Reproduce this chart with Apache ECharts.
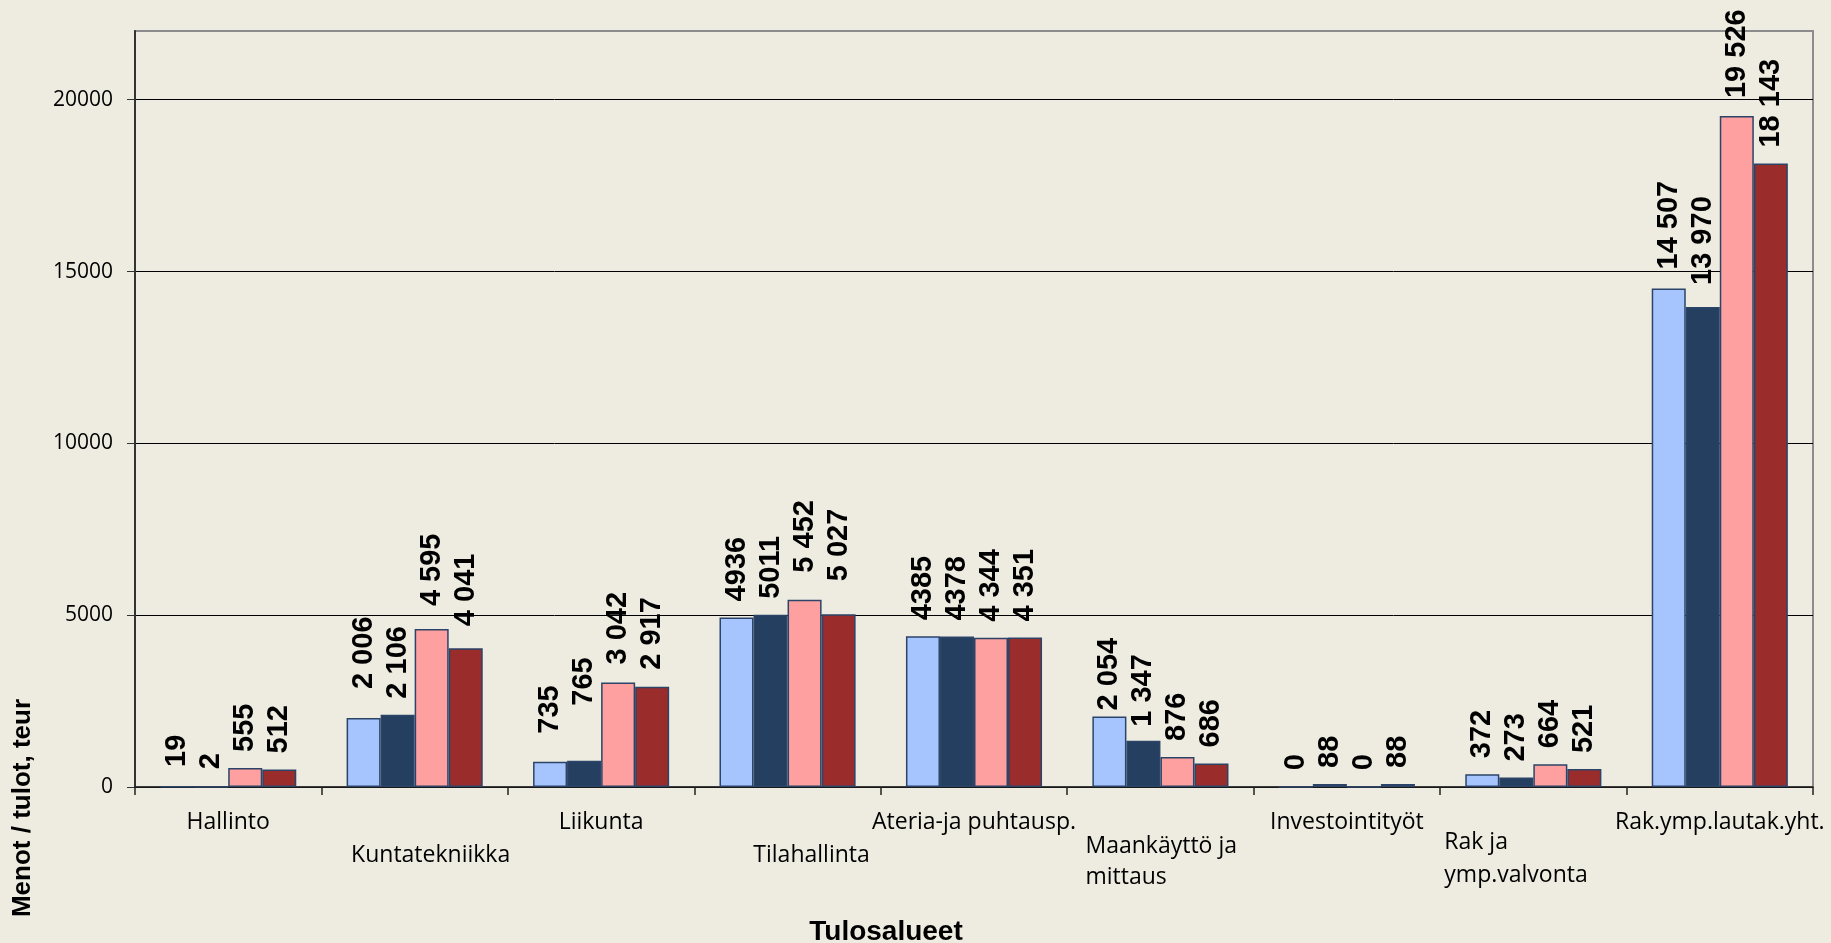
<!DOCTYPE html>
<html>
<head>
<meta charset="utf-8">
<script src="https://cdn.jsdelivr.net/npm/echarts@6/dist/echarts.min.js"></script>
<style>
html,body{margin:0;padding:0;background:#EEECE1;}
#chart{width:1831px;height:943px;}
</style>
</head>
<body>
<div id="chart"></div>
<script>
// ---- data ----
var categories = ['Hallinto', 'Kuntatekniikka', 'Liikunta', 'Tilahallinta', 'Ateria-ja puhtausp.',
  'Maankäyttö ja\nmittaus', 'Investointityöt', 'Rak ja\nymp.valvonta', 'Rak.ymp.lautak.yht.'];
var series1 = [19, 2006, 735, 4936, 4385, 2054, 0, 372, 14507];
var series2 = [2, 2106, 765, 5011, 4378, 1347, 88, 273, 13970];
var series3 = [555, 4595, 3042, 5452, 4344, 876, 0, 664, 19526];
var series4 = [512, 4041, 2917, 5027, 4351, 686, 88, 521, 18143];
var yTicks = [0, 5000, 10000, 15000, 20000];
var yAxisTitle = 'Menot / tulot, teur';
var xAxisTitle = 'Tulosalueet';
// labels printed without thousands separator in the original (series 0 and 1)
var plainLabelCats = [3, 4];

// ---- layout helpers (label nudges, in px, as placed in the original) ----
var labelNudge = [
  [3, 13, 12, 0, 0, -10, 0, 0, 3],
  [1, 0, 39, 0, 0, -2, 0, 0, 6],
  [0, 7, 2, 11, 0, 0, 0, 0, 2],
  [0, 6, 1, 17, 0, 0, 0, 0, 0]
];

var chart = echarts.init(document.getElementById('chart'), null, {renderer: 'canvas'});
var colors = ['#A6C5FF', '#253F60', '#FFA0A0', '#9A2C2C'];
var allSeries = [series1, series2, series3, series4];

function fmt(v, si, di) {
  if (si < 2 && plainLabelCats.indexOf(di) >= 0) return String(v);
  var s = String(v);
  if (v >= 1000) s = s.slice(0, s.length - 3) + ' ' + s.slice(s.length - 3);
  return s;
}

var catStyle = ['r1', 'r2', 'r1', 'r2b', 'r1', 'm', 'r1', 'k', 'r1'];
var catFont = {fontFamily: 'Open Sans', fontSize: 23, color: '#000'};
function rs(extra) { return Object.assign({}, catFont, extra); }

var option = {
  backgroundColor: '#EEECE1',
  animation: false,
  grid: {left: 135, right: 18, top: 31, bottom: 156, outerBoundsMode: 'none', containLabel: false,
    show: true, borderColor: '#8C8C8C', borderWidth: 2, backgroundColor: 'transparent'},
  xAxis: {
    type: 'category',
    data: categories,
    name: xAxisTitle,
    nameLocation: 'middle',
    nameGap: 131,
    nameTextStyle: {fontFamily: 'Liberation Sans', fontWeight: 'bold', fontSize: 28, color: '#000', padding: [0, 176, 0, 0]},
    axisLine: {lineStyle: {color: '#222', width: 1.5}},
    axisTick: {show: true, length: 8, lineStyle: {color: '#222', width: 1.5}, alignWithLabel: false},
    axisLabel: {
      interval: 0, margin: 8, color: '#000', fontFamily: 'Open Sans', fontSize: 23,
      formatter: function (value, idx) {
        var st = catStyle[idx];
        if (st === 'm' || st === 'k') {
          var parts = value.split('\n');
          return '{' + st + '1|' + parts[0] + '}\n{' + st + '2|' + parts[1] + '}';
        }
        return '{' + st + '|' + value + '}';
      },
      rich: {
        r1: rs({padding: [16, 0, 0, 0]}),
        r2: rs({padding: [49, 0, 0, 32]}),
        r2b: rs({padding: [49, 0, 0, 48]}),
        m1: rs({width: 150, align: 'left', padding: [40, 0, 0, 0]}),
        m2: rs({width: 150, align: 'left', padding: [8, 0, 0, 0]}),
        k1: rs({width: 152, align: 'left', padding: [36, 26, 0, 0]}),
        k2: rs({width: 152, align: 'left', padding: [10, 26, 0, 0]})
      }
    },
    splitLine: {show: false}
  },
  yAxis: {
    type: 'value',
    min: yTicks[0],
    max: 22000,
    interval: yTicks[1] - yTicks[0],
    axisLine: {show: true, lineStyle: {color: '#333', width: 2}},
    axisTick: {show: true, length: 8, lineStyle: {color: '#333', width: 1}},
    axisLabel: {margin: 22, color: '#000', fontFamily: 'Open Sans', fontSize: 21, showMaxLabel: false,
      formatter: function (v) { return String(v); }},
    splitLine: {show: true, lineStyle: {color: ['#000', '#000', '#000', '#000', '#000', '#8C8C8C'], width: 1}}
  },
  graphic: [{
    type: 'text', x: 23, y: 808, rotation: Math.PI / 2,
    style: {text: yAxisTitle, font: 'bold 26px "Liberation Sans"', fill: '#000', align: 'center', verticalAlign: 'middle'}
  }],
  series: allSeries.map(function (arr, si) {
    return {
      type: 'bar',
      data: arr.map(function (v, di) {
        return {value: v, label: {distance: 16 + labelNudge[si][di]}};
      }),
      barGap: '0%',
      barCategoryGap: '27%',
      itemStyle: {color: colors[si], borderColor: '#2B4468', borderWidth: 1.5},
      label: {
        show: true, position: 'top', rotate: 90, align: 'left', verticalAlign: 'middle', distance: 16,
        fontFamily: 'Liberation Sans', fontWeight: 'bold', fontSize: 29, color: '#000',
        formatter: function (p) { return fmt(p.value, si, p.dataIndex); }
      }
    };
  })
};
chart.setOption(option);
</script>
</body>
</html>
